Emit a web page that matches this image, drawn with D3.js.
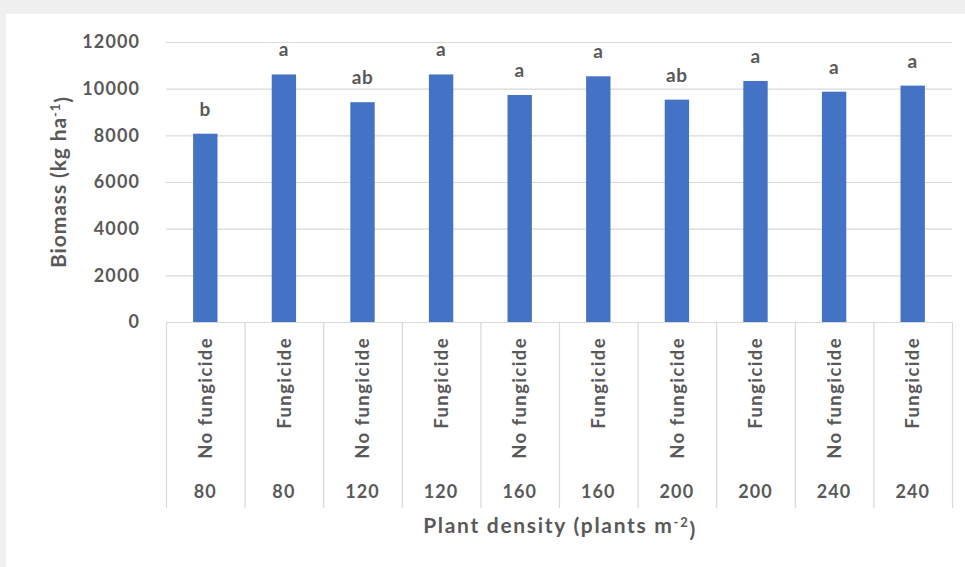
<!DOCTYPE html>
<html>
<head>
<meta charset="utf-8">
<script src="https://cdn.jsdelivr.net/npm/d3@7"></script>
<style>
  html, body { margin: 0; padding: 0; background: #f0f0f0; }
  svg { display: block; }
  text { font-family: Lato, "Open Sans", sans-serif; font-weight: 700; fill: #595959; }
</style>
</head>
<body>
<svg id="chart" width="965" height="567"></svg>
<script>
const densities = ["80", "80", "120", "120", "160", "160", "200", "200", "240", "240"];
const treatments = ["No fungicide", "Fungicide", "No fungicide", "Fungicide", "No fungicide", "Fungicide", "No fungicide", "Fungicide", "No fungicide", "Fungicide"];
const biomass = [8070, 10610, 9420, 10610, 9730, 10530, 9530, 10330, 9870, 10130];
const letters = ["b", "a", "ab", "a", "a", "a", "ab", "a", "a", "a"];
const yTicks = [0, 2000, 4000, 6000, 8000, 10000, 12000];

const svg = d3.select("#chart");
svg.append("rect").attr("x", 6).attr("y", 14).attr("width", 959).attr("height", 553).attr("fill", "#ffffff");

const m = { left: 166, right: 952, top: 42, bottom: 322 };
const idx = d3.range(biomass.length);
const x = d3.scaleBand().domain(idx).range([m.left, m.right]).paddingInner(0).paddingOuter(0);
const y = d3.scaleLinear().domain([0, 12000]).range([m.bottom, m.top]);
const barW = x.bandwidth() * 0.31;
const gridC = "#d9d9d9";

// gridlines
svg.append("g").selectAll("line").data(yTicks).join("line")
  .attr("x1", m.left).attr("x2", m.right)
  .attr("y1", d => y(d) + 0.5).attr("y2", d => y(d) + 0.5)
  .attr("stroke", gridC).attr("stroke-width", 1.2);

// y tick labels
svg.append("g").selectAll("text").data(yTicks).join("text")
  .attr("x", 140).attr("y", d => y(d))
  .attr("dy", "0.36em").attr("text-anchor", "end")
  .style("font-size", "18px").style("letter-spacing", "1.1px")
  .text(d => d);

// category separators
const bounds = idx.map(i => x(i)).concat([m.right]);
svg.append("g").selectAll("line").data(bounds).join("line")
  .attr("x1", d => d + 0.5).attr("x2", d => d + 0.5)
  .attr("y1", m.bottom).attr("y2", 508)
  .attr("stroke", gridC).attr("stroke-width", 1.2);

// bars
svg.append("g").selectAll("rect").data(idx).join("rect")
  .attr("x", i => x(i) + (x.bandwidth() - barW) / 2)
  .attr("y", i => y(biomass[i]))
  .attr("width", barW)
  .attr("height", i => y(0) - y(biomass[i]))
  .attr("fill", "#4472c4");

// letters
svg.append("g").selectAll("text").data(idx).join("text")
  .attr("x", i => x(i) + x.bandwidth() / 2)
  .attr("y", i => y(biomass[i]) - 18)
  .attr("text-anchor", "middle")
  .style("font-size", "19px").style("letter-spacing", "0.6px")
  .text(i => letters[i]);

// treatment labels (rotated)
svg.append("g").selectAll("text").data(idx).join("text")
  .attr("transform", i => `translate(${x(i) + x.bandwidth() / 2},337) rotate(-90)`)
  .attr("text-anchor", "end")
  .attr("dy", "0.36em")
  .style("font-size", "18.5px").style("letter-spacing", "1.4px")
  .text(i => treatments[i]);

// density labels
svg.append("g").selectAll("text").data(idx).join("text")
  .attr("x", i => x(i) + x.bandwidth() / 2)
  .attr("y", 498)
  .attr("text-anchor", "middle")
  .style("font-size", "18px").style("letter-spacing", "1.1px")
  .text(i => densities[i]);

// axis titles
const xt = svg.append("text").attr("x", 560).attr("y", 533).attr("text-anchor", "middle")
  .style("font-size", "21px").style("letter-spacing", "1.7px");
xt.append("tspan").text("Plant density (plants m");
xt.append("tspan").attr("dy", "-0.45em").style("font-size", "13px").text("-2");
xt.append("tspan").attr("dy", "0.45em").text(")");

const yt = svg.append("text").attr("transform", "translate(66,182) rotate(-90)").attr("text-anchor", "middle")
  .style("font-size", "21px").style("letter-spacing", "0.9px");
yt.append("tspan").text("Biomass (kg ha");
yt.append("tspan").attr("dy", "-0.45em").style("font-size", "13px").text("-1");
yt.append("tspan").attr("dy", "0.45em").text(")");
</script>
</body>
</html>
